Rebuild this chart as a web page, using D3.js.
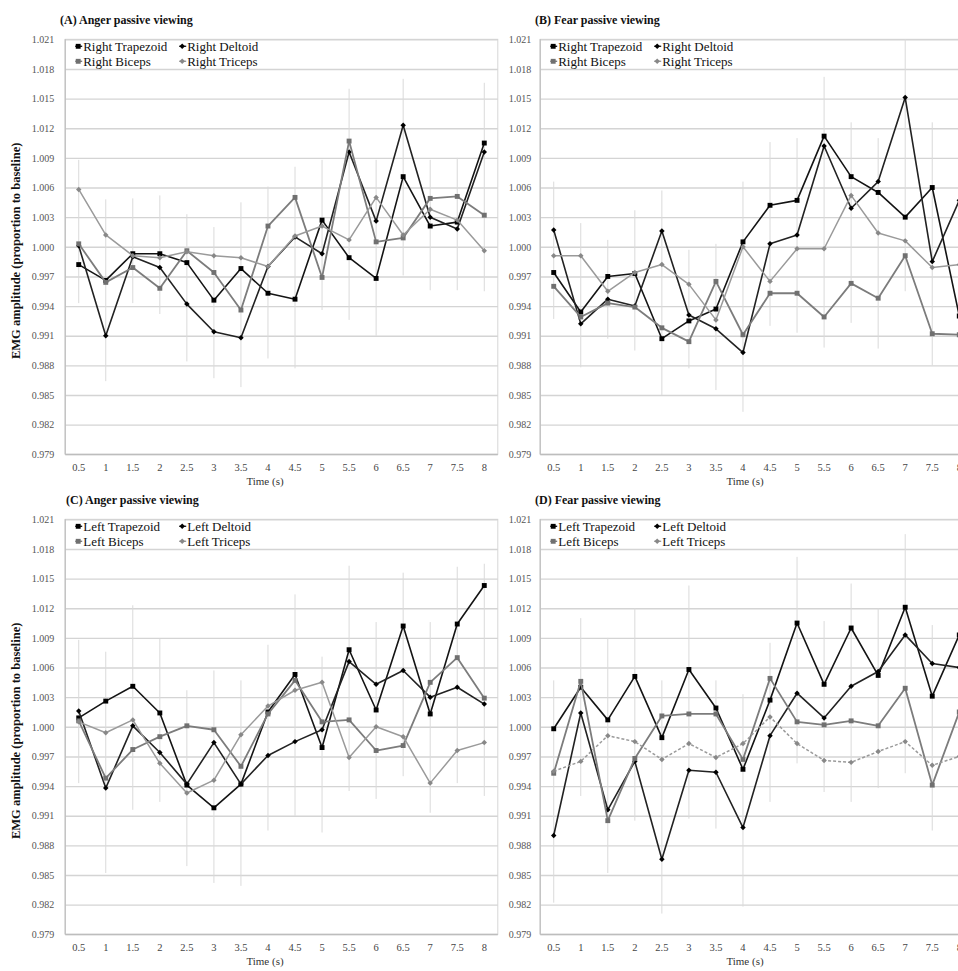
<!DOCTYPE html>
<html>
<head>
<meta charset="utf-8">
<script src="https://cdn.jsdelivr.net/npm/d3@7"></script>
<style>
  html, body { margin: 0; padding: 0; background: #fff; }
  svg { display: block; }
  text { font-family: "Liberation Serif", "Times New Roman", serif; }
</style>
</head>
<body>
<svg id="chart" width="958" height="971"></svg>
<script>
// ---------------- DATA ----------------
const times = ["0.5","1","1.5","2","2.5","3","3.5","4","4.5","5","5.5","6","6.5","7","7.5","8"];
const yTicks = [0.979,0.982,0.985,0.988,0.991,0.994,0.997,1.000,1.003,1.006,1.009,1.012,1.015,1.018,1.021];
const panelTitles = ["(A) Anger passive viewing","(B) Fear passive viewing","(C) Anger passive viewing","(D) Fear passive viewing"];
const rightNames = ["Right Trapezoid","Right Deltoid","Right Biceps","Right Triceps"];
const leftNames  = ["Left Trapezoid","Left Deltoid","Left Biceps","Left Triceps"];
const xTitle = "Time (s)";
const yTitle = "EMG amplitude (proportion to baseline)";

// (A) Anger, right side
const aTrapezoid = [0.9982,0.9966,0.9993,0.9993,0.9984,0.9946,0.9978,0.9953,0.9947,1.0027,0.9989,0.9968,1.0071,1.0021,1.0025,1.0105];
const aDeltoid   = [1.0001,0.9910,0.9990,0.9979,0.9942,0.9914,0.9908,0.9980,1.0010,0.9993,1.0096,1.0026,1.0123,1.0030,1.0018,1.0096];
const aBiceps    = [1.0003,0.9964,0.9979,0.9958,0.9996,0.9974,0.9936,1.0021,1.0050,0.9969,1.0107,1.0005,1.0009,1.0049,1.0051,1.0032];
const aTriceps   = [1.0058,1.0012,0.9991,0.9989,0.9995,0.9991,0.9989,0.9980,1.0011,1.0021,1.0007,1.0050,1.0012,1.0038,1.0027,0.9996];
const aErrHigh   = [1.0088,1.0048,1.0049,1.0052,1.0033,1.0020,1.0045,1.0061,1.0081,1.0088,1.0160,1.0088,1.0170,1.0088,1.0090,1.0166];
const aErrLow    = [0.9943,0.9864,0.9943,0.9932,0.9884,0.9867,0.9858,0.9887,0.9877,0.9936,0.9926,0.9910,0.9971,0.9956,0.9956,0.9955];

// (B) Fear, right side
const bTrapezoid = [0.9974,0.9934,0.9970,0.9973,0.9907,0.9925,0.9937,1.0005,1.0042,1.0047,1.0112,1.0071,1.0055,1.0030,1.0060,0.9930];
const bDeltoid   = [1.0017,0.9922,0.9947,0.9940,1.0016,0.9931,0.9917,0.9893,1.0003,1.0012,1.0102,1.0039,1.0066,1.0151,0.9985,1.0047];
const bBiceps    = [0.9960,0.9929,0.9943,0.9939,0.9918,0.9904,0.9965,0.9911,0.9953,0.9953,0.9929,0.9963,0.9948,0.9991,0.9912,0.9911];
const bTriceps   = [0.9991,0.9991,0.9955,0.9974,0.9982,0.9962,0.9926,1.0000,0.9965,0.9998,0.9998,1.0052,1.0014,1.0006,0.9979,0.9982];
const bErrHigh   = [1.0066,1.0024,1.0007,1.0037,1.0057,0.9997,1.0003,1.0066,1.0106,1.0110,1.0172,1.0126,1.0110,1.0210,1.0126,1.0120];
const bErrLow    = [0.9927,0.9878,0.9907,0.9895,0.9850,0.9877,0.9855,0.9833,0.9920,0.9913,0.9898,0.9923,0.9897,0.9955,0.9880,0.9870];

// (C) Anger, left side
const cTrapezoid = [1.0009,1.0026,1.0041,1.0014,0.9941,0.9918,0.9942,1.0015,1.0053,0.9979,1.0078,1.0017,1.0102,1.0013,1.0104,1.0143];
const cDeltoid   = [1.0016,0.9938,1.0001,0.9974,0.9942,0.9984,0.9942,0.9971,0.9985,0.9997,1.0066,1.0043,1.0057,1.0030,1.0040,1.0023];
const cBiceps    = [1.0006,0.9948,0.9977,0.9990,1.0001,0.9997,0.9960,1.0013,1.0047,1.0005,1.0007,0.9976,0.9981,1.0045,1.0070,1.0029];
const cTriceps   = [1.0005,0.9994,1.0007,0.9963,0.9933,0.9946,0.9992,1.0021,1.0037,1.0045,0.9969,1.0000,0.9990,0.9943,0.9976,0.9984];
const cErrHigh   = [1.0088,1.0076,1.0123,1.0089,1.0037,1.0057,1.0047,1.0083,1.0134,1.0071,1.0163,1.0106,1.0156,1.0106,1.0162,1.0165];
const cErrLow    = [0.9943,0.9852,0.9916,0.9924,0.9859,0.9842,0.9839,0.9895,0.9910,0.9893,0.9935,0.9927,0.9950,0.9913,0.9943,0.9930];

// (D) Fear, left side
const dTrapezoid = [0.9998,1.0040,1.0007,1.0051,0.9989,1.0058,1.0019,0.9957,1.0027,1.0105,1.0043,1.0100,1.0052,1.0121,1.0031,1.0093];
const dDeltoid   = [0.9890,1.0014,0.9916,0.9965,0.9866,0.9956,0.9954,0.9898,0.9991,1.0034,1.0009,1.0041,1.0056,1.0093,1.0064,1.0060];
const dBiceps    = [0.9953,1.0046,0.9905,0.9968,1.0011,1.0013,1.0013,0.9967,1.0049,1.0005,1.0002,1.0006,1.0001,1.0039,0.9941,1.0015];
const dTriceps   = [0.9955,0.9965,0.9991,0.9985,0.9967,0.9983,0.9969,0.9983,1.0010,0.9983,0.9966,0.9964,0.9975,0.9985,0.9961,0.9970];
const dErrHigh   = [1.0047,1.0110,1.0090,1.0120,1.0047,1.0143,1.0047,1.0033,1.0085,1.0172,1.0107,1.0145,1.0120,1.0195,1.0103,1.0110];
const dErrLow    = [0.9822,0.9930,0.9852,0.9905,0.9811,0.9907,0.9897,0.9818,0.9924,0.9963,0.9934,0.9924,0.9938,0.9953,0.9895,0.9920];

// ---------------- LAYOUT / STYLE ----------------
const plotW = 432.6, plotH = 415;
const panels = [
  { title: panelTitles[0], names: rightNames, series: [aTrapezoid,aDeltoid,aBiceps,aTriceps], hi: aErrHigh, lo: aErrLow,
    left: 65.2, top: 39.3, titleX: 60, yAxisTitle: true, xTitleX: 265, dashedTriceps: false },
  { title: panelTitles[1], names: rightNames, series: [bTrapezoid,bDeltoid,bBiceps,bTriceps], hi: bErrHigh, lo: bErrLow,
    left: 540.2, top: 39.3, titleX: 535, yAxisTitle: false, xTitleX: 745, dashedTriceps: false },
  { title: panelTitles[2], names: leftNames, series: [cTrapezoid,cDeltoid,cBiceps,cTriceps], hi: cErrHigh, lo: cErrLow,
    left: 65.2, top: 519.3, titleX: 66, yAxisTitle: true, xTitleX: 265, dashedTriceps: false },
  { title: panelTitles[3], names: leftNames, series: [dTrapezoid,dDeltoid,dBiceps,dTriceps], hi: dErrHigh, lo: dErrLow,
    left: 540.2, top: 519.3, titleX: 535, yAxisTitle: false, xTitleX: 745, dashedTriceps: true }
];
// square markers, and squares turned 45 degrees (small diamonds)
const seriesStyle = [
  { stroke: "#141414", fill: "#000",    size: 24, rot: 0,  width: 1.6 },
  { stroke: "#222",    fill: "#000",    size: 15, rot: 45, width: 1.6 },
  { stroke: "#7c7c7c", fill: "#707070", size: 24, rot: 0,  width: 1.8 },
  { stroke: "#9a9a9a", fill: "#888",    size: 15, rot: 45, width: 1.5 }
];

const svg = d3.select("#chart");

panels.forEach(p => {
  const g = svg.append("g");
  const x = d3.scaleBand().domain(times).range([p.left, p.left + plotW]).padding(0);
  const cx = t => x(t) + x.bandwidth() / 2;
  const y = d3.scaleLinear().domain([0.979, 1.021]).range([p.top + plotH, p.top]);

  // plot frame
  g.append("rect").attr("x", p.left).attr("y", p.top).attr("width", plotW).attr("height", plotH)
    .attr("fill", "#fff").attr("stroke", "#d6d6d6").attr("stroke-width", 1);

  // horizontal gridlines
  g.append("g").attr("transform", `translate(${p.left},0)`)
    .call(d3.axisLeft(y).tickValues(yTicks).tickSize(-plotW).tickFormat(""))
    .call(s => s.select(".domain").remove())
    .call(s => s.selectAll(".tick line").attr("stroke", "#d4d4d4").attr("stroke-width", 1.4));

  // error bars
  g.append("g").selectAll("line").data(times).join("line")
    .attr("x1", t => cx(t)).attr("x2", t => cx(t))
    .attr("y1", (t, i) => y(Math.min(p.hi[i], 1.021)))
    .attr("y2", (t, i) => y(p.lo[i]))
    .attr("stroke", "#dadada").attr("stroke-width", 1);

  // axes lines
  g.append("line").attr("x1", p.left).attr("x2", p.left).attr("y1", p.top).attr("y2", p.top + plotH)
    .attr("stroke", "#bdbdbd").attr("stroke-width", 1.2);
  g.append("line").attr("x1", p.left).attr("x2", p.left + plotW).attr("y1", p.top + plotH).attr("y2", p.top + plotH)
    .attr("stroke", "#bdbdbd").attr("stroke-width", 1.2);

  // y tick labels
  g.append("g").attr("transform", `translate(${p.left},0)`)
    .call(d3.axisLeft(y).tickValues(yTicks).tickSize(0).tickPadding(p.yAxisTitle ? 11 : 9).tickFormat(d3.format(".3f")))
    .call(s => s.select(".domain").remove())
    .call(s => s.selectAll("text").attr("fill", "#555").style("font-size", "10px")
      .style("font-family", "'Liberation Serif', serif"));

  // x tick labels
  g.append("g").attr("transform", `translate(0,${p.top + plotH})`)
    .call(d3.axisBottom(x).tickSize(0).tickPadding(9))
    .call(s => s.select(".domain").remove())
    .call(s => s.selectAll("text").attr("fill", "#444").style("font-size", "10.5px")
      .style("font-family", "'Liberation Serif', serif"));

  // series
  p.series.forEach((vals, si) => {
    const st = seriesStyle[si];
    const line = d3.line().x((d, i) => cx(times[i])).y(d => y(d));
    g.append("path").datum(vals).attr("d", line).attr("fill", "none")
      .attr("stroke", st.stroke).attr("stroke-width", st.width)
      .attr("stroke-linejoin", "round")
      .attr("stroke-dasharray", (si === 3 && p.dashedTriceps) ? "3,2" : null);
    g.append("g").selectAll("path").data(vals).join("path")
      .attr("d", d3.symbol().type(d3.symbolSquare).size(st.size))
      .attr("transform", (d, i) => `translate(${cx(times[i])},${y(d)}) rotate(${st.rot})`)
      .attr("fill", st.fill);
  });

  // legend
  const legPos = [
    { mx: p.left + 13, ty: p.top + 7 }, { mx: p.left + 117, ty: p.top + 7 },
    { mx: p.left + 13, ty: p.top + 22 }, { mx: p.left + 117, ty: p.top + 22 }
  ];
  p.names.forEach((n, i) => {
    const st = seriesStyle[i];
    const lp = legPos[i];
    g.append("line").attr("x1", lp.mx - 3).attr("x2", lp.mx + 4).attr("y1", lp.ty).attr("y2", lp.ty)
      .attr("stroke", st.stroke).attr("stroke-width", 1.4);
    g.append("path").attr("d", d3.symbol().type(d3.symbolSquare).size(st.size)())
      .attr("transform", `translate(${lp.mx},${lp.ty}) rotate(${st.rot})`).attr("fill", st.fill);
    g.append("text").attr("x", lp.mx + 5).attr("y", lp.ty).attr("dy", "0.35em")
      .style("font-size", "13px").attr("fill", "#111").text(n);
  });

  // panel title
  g.append("text").attr("x", p.titleX).attr("y", p.top - 15)
    .style("font-size", "12px").style("font-weight", "bold").attr("fill", "#111").text(p.title);

  // x axis title
  g.append("text").attr("x", p.xTitleX).attr("y", p.top + plotH + 30.5)
    .attr("text-anchor", "middle").style("font-size", "11px").attr("fill", "#333").text(xTitle);

  // y axis title
  if (p.yAxisTitle) {
    g.append("text").attr("transform", `translate(20,${p.top + plotH / 2 + 4}) rotate(-90)`)
      .attr("text-anchor", "middle").style("font-size", "12.5px").style("font-weight", "bold")
      .attr("fill", "#111").text(yTitle);
  }
});
</script>
</body>
</html>
